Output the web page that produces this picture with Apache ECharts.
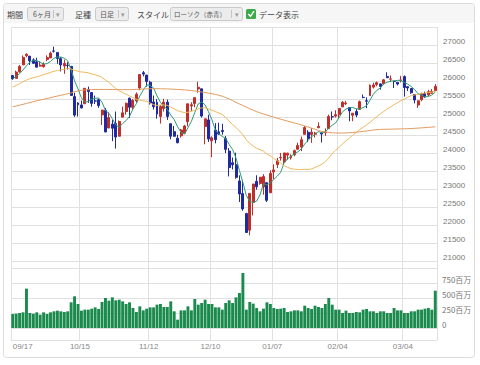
<!DOCTYPE html>
<html><head><meta charset="utf-8">
<script src="https://cdn.jsdelivr.net/npm/echarts@6/dist/echarts.min.js"></script>
<style>html,body{margin:0;padding:0;background:#fff}#c{width:480px;height:365px}</style>
</head><body><div id="c"></div>
<script>
const categories = ['09/17','09/18','09/19','09/20','09/21','09/24','09/25','09/26','09/27','09/28',
'10/01','10/02','10/03','10/04','10/05','10/08','10/09','10/10','10/11','10/12','10/15','10/16','10/17','10/18','10/19','10/22','10/23','10/24','10/25','10/26','10/29','10/30','10/31',
'11/01','11/02','11/05','11/06','11/07','11/08','11/09','11/12','11/13','11/14','11/15','11/16','11/19','11/20','11/21','11/23','11/26','11/27','11/28','11/29','11/30',
'12/03','12/04','12/06','12/07','12/10','12/11','12/12','12/13','12/14','12/17','12/18','12/19','12/20','12/21','12/24','12/26','12/27','12/28','12/31',
'01/02','01/03','01/04','01/07','01/08','01/09','01/10','01/11','01/14','01/15','01/16','01/17','01/18','01/22','01/23','01/24','01/25','01/28','01/29','01/30','01/31',
'02/01','02/04','02/05','02/06','02/07','02/08','02/11','02/12','02/13','02/14','02/15','02/19','02/20','02/21','02/22','02/25','02/26','02/27','02/28',
'03/01','03/04','03/05','03/06','03/07','03/08','03/11','03/12','03/13','03/14','03/15'];
const tickLabels = ['09/17','10/15','11/12','12/10','01/07','02/04','03/04'];

const opens = [26150,26073,26255,26447,26702,26691,26587,26534,26413,26398,
26598,26641,26833,26793,26622,26420,26439,26407,25566,25388,
25334,25367,25768,25680,25446,25477,25058,25183,24694,24803,
24817,24466,24996,25151,25522,25268,25448,25806,26229,26166,
25967,25417,25411,25014,25235,25412,24813,24593,24412,24476,
24552,24868,25307,25372,25779,25783,24737,24919,24337,24637,
24588,24625,24399,24053,23727,23676,23224,22872,22317,21857,
22629,23213,23154,23058,23176,22894,23474,23680,23865,23754,
23941,23864,23950,24105,24166,24518,24576,24516,24520,24700,
24551,24560,24678,25008,25025,25062,25279,25371,25266,25048,
25154,25211,25545,25450,25594,25830,25903,25919,25921,26126,
26052,25994,25964,26019,26122,25842,25792,25626,25332,25483,
25651,25610,25658,25731];
const closes = [26062,26247,26406,26657,26744,26562,26492,26385,26440,26458,
26651,26774,26828,26627,26447,26487,26431,25599,25053,25340,
25251,25798,25707,25379,25444,25317,25191,24583,24985,24688,
24443,24875,25116,25381,25271,25462,25635,26180,26191,25989,
25387,25286,25081,25289,25413,25017,24466,24465,24286,24640,
24749,25366,25339,25538,25826,25027,24948,24389,24423,24370,
24527,24597,24101,23593,23676,23324,22860,22445,21792,22878,
23139,23062,23327,23346,22686,23433,23531,23787,23879,24002,
23996,23910,24066,24207,24370,24706,24404,24576,24553,24737,
24528,24580,25015,25000,25064,25239,25412,25390,25170,25106,
25053,25426,25543,25439,25883,25891,25954,25851,26032,26092,
26058,25985,25916,26026,25820,25807,25673,25473,25450,25651,
25555,25703,25710,25849];
const lows = [26035,26073,26235,26447,26657,26447,26471,26377,26400,26370,
26549,26641,26789,26480,26265,26200,26318,25598,25003,25012,
25241,25367,25393,25286,25362,25255,24777,24583,24694,24329,
24122,24466,24996,25066,24974,25197,25398,25742,26128,25843,
25344,25208,24955,24817,25151,24920,24379,24458,24268,24426,
24552,24741,25161,25269,25673,24985,24242,24308,23881,24268,
24505,24509,23996,23350,23541,23283,22640,22397,21792,21713,
22267,22981,23118,22839,22638,22894,23270,23581,23788,23675,
23811,23817,23908,24091,24051,24518,24300,24282,24431,24700,
24290,24476,24678,24909,24985,24970,25279,25331,24883,24884,
24998,25211,25523,25245,25594,25792,25852,25762,25908,26082,
25976,25806,25878,25962,25566,25723,25646,25377,25253,25437,
25535,25579,25651,25731];
const highs = [26170,26288,26445,26711,26769,26691,26630,26646,26551,26518,
26714,26817,26952,26793,26662,26593,26522,26414,25676,25412,
25457,25806,25845,25683,25593,25515,25200,25250,25135,24917,
25152,24903,25288,25401,25541,25498,25683,26180,26277,26166,
26006,25594,25497,25334,25505,25484,24813,24753,24508,24669,
24782,25367,25409,25538,25980,25783,24948,25063,24463,24830,
24841,24812,24471,24138,23873,24009,23381,23255,22339,22878,
23139,23381,23333,23413,23176,23518,23687,23865,24002,24002,
24006,23964,24093,24287,24458,24750,24632,24690,24588,24853,
24583,24684,25066,25154,25187,25239,25440,25445,25266,25107,
25226,25458,25624,25545,25903,25954,25986,25932,26056,26241,
26154,26009,25965,26143,26155,25842,25794,25634,25460,25676,
25705,25755,25777,25914];
const ma5 = [26067,26122,26203,26305,26423,26523,26572,26568,26525,26467,
26485,26542,26630,26668,26665,26633,26564,26318,26003,25782,
25535,25408,25430,25495,25516,25529,25408,25183,25104,24953,
24778,24715,24821,24901,25017,25221,25373,25586,25748,25891,
25876,25807,25587,25406,25291,25217,25053,24930,24729,24575,
24521,24701,24876,25126,25364,25419,25336,25146,24923,24631,
24531,24461,24404,24238,24099,23858,23511,23180,22819,22660,
22623,22663,22840,23150,23112,23171,23265,23357,23463,23726,
23839,23915,23971,24036,24110,24252,24351,24453,24522,24595,
24560,24595,24683,24772,24837,24980,25146,25221,25255,25263,
25226,25229,25260,25313,25469,25636,25742,25804,25922,25964,
25997,26004,26017,26015,25961,25911,25848,25760,25645,25611,
25560,25566,25614,25694];
const ma25 = [25834,25877,25921,25981,26028,26064,26093,26116,26144,26176,26210,26239,26270,26290,26308,26329,26349,26334,26296,26273,26249,26242,26230,26199,26171,
26141,26099,26026,25959,25877,25792,25727,25677,25634,25587,25539,25493,25468,25450,25432,25388,25342,25321,25331,25334,25324,25271,25221,25178,25145,
25123,25130,25160,25182,25227,25251,25254,25225,25186,25150,25113,25071,24988,24884,24792,24709,24612,24507,24367,24266,24191,24134,24089,24051,23973,
23920,23847,23785,23719,23646,23604,23563,23550,23541,23541,23549,23541,23560,23598,23641,23689,23758,23860,23989,24076,24160,24254,24337,24410,24506,
24571,24647,24717,24780,24855,24931,25012,25084,25157,25226,25280,25343,25397,25456,25499,25550,25594,25612,25630,25654,25666,25678,25691,25718];
const ma75 = [25283,25305,25328,25352,25377,25402,25427,25450,25472,25493,25515,25537,25560,25582,25603,25622,25645,25670,25700,25725,25742,
25752,25758,25762,25764,25765,25766,25766,25765,25764,25762,25760,25759,25759,25760,25762,25766,25772,25778,25782,25785,
25786,25785,25784,25782,25780,25775,25770,25765,25760,
25752,25745,25735,25722,25710,25695,25680,25663,25645,25628,25605,
25575,25540,25500,25455,25405,
25360,25320,25275,25230,25190,25150,
25115,25085,25055,25025,24995,24965,
24940,24912,24885,24860,24835,24808,
24780,24752,24720,24690,24660,24625,
24600,24585,24572,24562,24556,24554,
24555,24558,24565,24572,24580,24590,
24600,24612,24625,24640,24650,24655,
24658,24660,24662,24665,24667,24670,
24672,24675,24680,24685,24692,24698,24705,24712,24720,24728];
const volumes = [233,239,250,261,656,250,239,261,222,261,233,261,278,289,278,267,278,
428,528,400,289,306,306,322,344,317,433,500,456,511,461,
472,444,400,428,333,267,361,294,322,344,
344,389,400,350,350,444,278,139,294,294,
361,294,483,389,417,472,400,400,344,344,
306,417,461,417,511,583,
917,306,433,406,
333,278,322,428,400,333,317,322,333,267,
278,294,294,278,372,333,317,372,350,333,
400,500,389,306,306,250,289,250,250,267,
261,306,317,278,278,250,278,278,250,250,
333,294,294,250,250,278,278,306,306,322,
333,306,622];

const candleData = categories.map((c, i) => [opens[i], closes[i], lows[i], highs[i]]);
const showTick = (idx, val) => tickLabels.indexOf(val) >= 0;
const GRID = '#e0e0e0';
const UP = '#bf2f2a', DOWN = '#1f2a9f';
const FONT = '"Liberation Sans", Arial, sans-serif';
const JFONT = '"Noto Sans CJK JP", sans-serif';

const chart = echarts.init(document.getElementById('c'), null, {renderer: 'svg'});
chart.setOption({
  animation: false,
  backgroundColor: '#fff',
  grid: [
    {left: 11, right: 43, top: 27, height: 234},
    {left: 11, right: 43, top: 268, height: 60},
    {left: 11, right: 43, top: 261, height: 79}
  ],
  xAxis: [
    {type: 'category', gridIndex: 0, data: categories, boundaryGap: true,
     axisLine: {show: false}, axisTick: {show: false}, axisLabel: {show: false},
     splitLine: {show: true, interval: showTick, lineStyle: {color: GRID, width: 1}}},
    {type: 'category', gridIndex: 1, data: categories, boundaryGap: true, show: false},
    {type: 'category', gridIndex: 2, data: categories, boundaryGap: true,
     axisLine: {show: true, lineStyle: {color: GRID}}, axisTick: {show: false},
     axisLabel: {interval: showTick, fontSize: 8, color: '#888', fontFamily: FONT, margin: 2,
                 padding: [0, 3, 0, 0], alignMinLabel: 'left'},
     splitLine: {show: true, interval: showTick, lineStyle: {color: GRID, width: 1}}}
  ],
  yAxis: [
    {type: 'value', gridIndex: 0, position: 'right', min: 21000, max: 27500, interval: 500,
     axisLine: {show: false}, axisTick: {show: false},
     axisLabel: {fontSize: 8, color: '#777', fontFamily: FONT, margin: 6,
                 verticalAlign: 'bottom', lineHeight: 8,
                 formatter: v => v === 27500 ? '' : String(v)},
     splitLine: {lineStyle: {color: GRID, width: 1}}},
    {type: 'value', gridIndex: 1, position: 'right', min: 0, max: 1000, interval: 250,
     axisLine: {show: false}, axisTick: {show: false},
     axisLabel: {fontSize: 8, color: '#777', fontFamily: JFONT, margin: 5,
                 verticalAlign: 'bottom', lineHeight: 8,
                 formatter: v => v === 1000 ? '' : (v === 0 ? '0' : v + '百万')},
     splitLine: {lineStyle: {color: GRID, width: 1}}},
    {type: 'value', gridIndex: 2, min: 0, max: 1, show: false}
  ],
  series: [
    {type: 'candlestick', xAxisIndex: 0, yAxisIndex: 0, data: candleData, barWidth: '72%',
     itemStyle: {color: UP, color0: DOWN, borderColor: UP, borderColor0: DOWN, borderWidth: 1}},
    {type: 'line', name: 'MA5', xAxisIndex: 0, yAxisIndex: 0, data: ma5, showSymbol: false,
     lineStyle: {width: 1, color: '#2e9b73'}, z: 3},
    {type: 'line', name: 'MA25', xAxisIndex: 0, yAxisIndex: 0, data: ma25, showSymbol: false,
     lineStyle: {width: 1, color: '#f0b95c'}, z: 3},
    {type: 'line', name: 'MA75', xAxisIndex: 0, yAxisIndex: 0, data: ma75, showSymbol: false,
     lineStyle: {width: 1, color: '#e39b5e'}, z: 3},
    {type: 'bar', xAxisIndex: 1, yAxisIndex: 1, data: volumes, barCategoryGap: '15%',
     itemStyle: {color: '#1b8a4d'}}
  ],
  graphic: [
    {type: 'rect', silent: true, z: -10, shape: {x: 3.5, y: 3.5, width: 471, height: 354, r: 3},
     style: {fill: '#fff', stroke: '#dcdcdc', lineWidth: 1}},
    {type: 'rect', silent: true, z: -9, shape: {x: 4, y: 4, width: 470, height: 19, r: [3, 3, 0, 0]},
     style: {fill: '#f6f6f6'}},
    {type: 'text', silent: true, x: 7, y: 14, style: {text: '期間', font: '8px ' + JFONT, fill: '#444', verticalAlign: 'middle'}},
    {type: 'rect', silent: true, shape: {x: 27.5, y: 7.5, width: 36, height: 13, r: 2}, style: {fill: '#ececec', stroke: '#cacaca'}},
    {type: 'text', silent: true, x: 33, y: 14, style: {text: '6ヶ月', font: '7px ' + JFONT, fill: '#555', verticalAlign: 'middle'}},
    {type: 'line', silent: true, shape: {x1: 53.5, y1: 10, x2: 53.5, y2: 18}, style: {stroke: '#c4c4c4'}},
    {type: 'text', silent: true, x: 56, y: 14, style: {text: '▾', font: '7px ' + FONT, fill: '#999', verticalAlign: 'middle'}},
    {type: 'text', silent: true, x: 75, y: 14, style: {text: '足種', font: '8px ' + JFONT, fill: '#444', verticalAlign: 'middle'}},
    {type: 'rect', silent: true, shape: {x: 95.5, y: 7.5, width: 33, height: 13, r: 2}, style: {fill: '#ececec', stroke: '#cacaca'}},
    {type: 'text', silent: true, x: 100, y: 14, style: {text: '日足', font: '7px ' + JFONT, fill: '#555', verticalAlign: 'middle'}},
    {type: 'line', silent: true, shape: {x1: 118.5, y1: 10, x2: 118.5, y2: 18}, style: {stroke: '#c4c4c4'}},
    {type: 'text', silent: true, x: 121, y: 14, style: {text: '▾', font: '7px ' + FONT, fill: '#999', verticalAlign: 'middle'}},
    {type: 'text', silent: true, x: 137, y: 14, style: {text: 'スタイル', font: '8px ' + JFONT, fill: '#444', verticalAlign: 'middle'}},
    {type: 'rect', silent: true, shape: {x: 170.5, y: 7.5, width: 72, height: 13, r: 2}, style: {fill: '#ececec', stroke: '#cacaca'}},
    {type: 'text', silent: true, x: 174, y: 14, style: {text: 'ローソク（赤青）', font: '6.5px ' + JFONT, fill: '#555', verticalAlign: 'middle'}},
    {type: 'line', silent: true, shape: {x1: 231.5, y1: 10, x2: 231.5, y2: 18}, style: {stroke: '#c4c4c4'}},
    {type: 'text', silent: true, x: 235, y: 14, style: {text: '▾', font: '7px ' + FONT, fill: '#999', verticalAlign: 'middle'}},
    {type: 'rect', silent: true, shape: {x: 246, y: 9, width: 10, height: 10, r: 1.5}, style: {fill: '#3daa4a'}},
    {type: 'polyline', silent: true, shape: {points: [[248.3, 14], [250.5, 16.3], [254, 11.2]]}, style: {stroke: '#fff', lineWidth: 1.5, fill: null}},
    {type: 'text', silent: true, x: 259, y: 14, style: {text: 'データ表示', font: '8px ' + JFONT, fill: '#444', verticalAlign: 'middle'}}
  ]
});
</script>
</body></html>
